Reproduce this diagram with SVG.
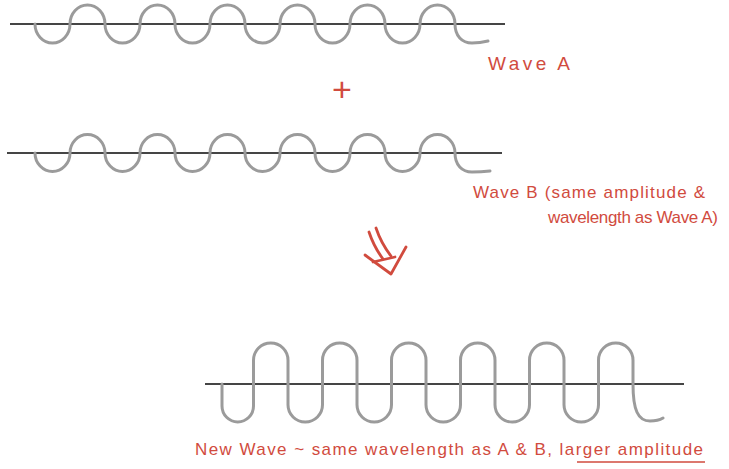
<svg xmlns="http://www.w3.org/2000/svg" width="729" height="469" viewBox="0 0 729 469">
<style>
.axis{stroke:#454545;stroke-width:2;fill:none}
.wave{stroke:#9b9b9b;stroke-width:3;fill:none;stroke-linecap:round}
.lbl{font-family:"Liberation Sans",Arial,sans-serif;fill:#d14b3e;font-size:17px}
.pen{stroke:#d14b3e;stroke-width:2.8;fill:none;stroke-linecap:round;stroke-linejoin:round}
</style>
<rect width="729" height="469" fill="#ffffff"/>
<g id="waveA">
<line class="axis" x1="10" y1="24" x2="505" y2="24"/>
<path class="wave" d="M35,24 a17.5 19 0 0 0 35 0 a17.5 19 0 0 1 35 0 a17.5 19 0 0 0 35 0 a17.5 19 0 0 1 35 0 a17.5 19 0 0 0 35 0 a17.5 19 0 0 1 35 0 a17.5 19 0 0 0 35 0 a17.5 19 0 0 1 35 0 a17.5 19 0 0 0 35 0 a17.5 19 0 0 1 35 0 a17.5 19 0 0 0 35 0 a17.5 19 0 0 1 35 0 C455,36 462,43 472,43 Q480,43 488,41"/>
<text class="lbl" x="488" y="70" style="font-size:19px" textLength="82" lengthAdjust="spacing">Wave A</text>
</g>
<g id="plus">
<text class="lbl" x="342" y="101" style="font-size:34px" text-anchor="middle">+</text>
</g>
<g id="waveB">
<line class="axis" x1="7" y1="153" x2="502" y2="153"/>
<path class="wave" d="M35,153 a17.5 18.5 0 0 0 35 0 a17.5 18.5 0 0 1 35 0 a17.5 18.5 0 0 0 35 0 a17.5 18.5 0 0 1 35 0 a17.5 18.5 0 0 0 35 0 a17.5 18.5 0 0 1 35 0 a17.5 18.5 0 0 0 35 0 a17.5 18.5 0 0 1 35 0 a17.5 18.5 0 0 0 35 0 a17.5 18.5 0 0 1 35 0 a17.5 18.5 0 0 0 35 0 a17.5 18.5 0 0 1 35 0 C455,165 462,172 472,172 Q481,172 490,171"/>
<text class="lbl" x="473" y="198" textLength="232" lengthAdjust="spacing">Wave B (same amplitude &amp;</text>
<text class="lbl" x="548" y="223" textLength="170" lengthAdjust="spacing">wavelength as Wave A)</text>
</g>
<g id="arrow">
<path class="pen" d="M369,232 Q374,247 383,259"/>
<path class="pen" d="M376,228 Q381,243 391,256"/>
<path class="pen" d="M365,255 L391,274 L406,247"/>
<path class="pen" d="M373,262 L395,257"/>
</g>
<g id="waveC">
<line class="axis" x1="205" y1="384" x2="684" y2="384"/>
<path class="wave" d="M222,384 v22 a15.75 16 0 0 0 31.5 0 v-22
v-23.75 a17.25 17.25 0 0 1 34.5 0 v23.75
v20.75 a17.25 17.25 0 0 0 34.5 0 v-20.75
v-23.75 a17.25 17.25 0 0 1 34.5 0 v23.75
v20.75 a17.25 17.25 0 0 0 34.5 0 v-20.75
v-23.75 a17.25 17.25 0 0 1 34.5 0 v23.75
v20.75 a17.25 17.25 0 0 0 34.5 0 v-20.75
v-23.75 a17.25 17.25 0 0 1 34.5 0 v23.75
v20.75 a17.25 17.25 0 0 0 34.5 0 v-20.75
v-23.75 a17.25 17.25 0 0 1 34.5 0 v23.75
v20.75 a17.25 17.25 0 0 0 34.5 0 v-20.75
v-23.75 a17.25 17.25 0 0 1 34.5 0 v23.75
C633,410 638,421 650,421 Q658,421 663,418"/>
<text class="lbl" x="195" y="455" textLength="508" lengthAdjust="spacing">New Wave ~ same wavelength as A &amp; B, larger amplitude</text>
<line x1="577" y1="462" x2="705" y2="462" stroke="#d14b3e" stroke-width="1.5"/>
</g>
</svg>
